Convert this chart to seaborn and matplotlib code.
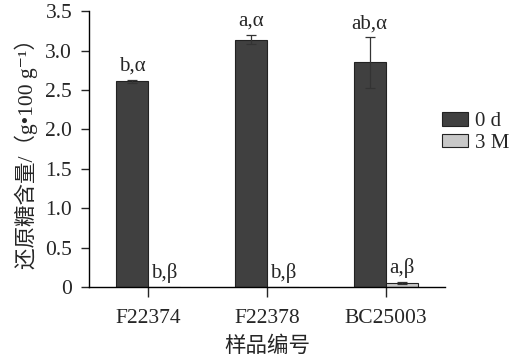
import matplotlib
matplotlib.use("Agg")
import matplotlib.pyplot as plt
import seaborn as sns
import pandas as pd
import numpy as np

samples = ["F22374", "F22378", "BC25003"]
groups = ["0 d", "3 M"]
vals_0d = [2.61, 3.14, 2.85]
err_0d = [0.02, 0.06, 0.32]
vals_3m = [0.0, 0.0, 0.05]
err_3m = [0.0, 0.0, 0.01]
labels_0d = ["b,α", "a,α", "ab,α"]
labels_3m = ["b,β", "b,β", "a,β"]
yticks = [0, 0.5, 1.0, 1.5, 2.0, 2.5, 3.0, 3.5]
ytick_labels = ["0", "0.5", "1.0", "1.5", "2.0", "2.5", "3.0", "3.5"]

df = pd.DataFrame({
    "sample": samples * 2,
    "group": [groups[0]] * 3 + [groups[1]] * 3,
    "value": vals_0d + vals_3m,
})

sns.set_style("white")
plt.rcParams["font.family"] = ["Liberation Serif", "Noto Sans CJK SC", "DejaVu Serif"]

fig = plt.figure(figsize=(5.11, 3.60), dpi=100)
ax = fig.add_axes([0.174, 0.203, 0.697, 0.766])

sns.barplot(data=df, x="sample", y="value", hue="group", order=samples,
            hue_order=groups, palette=["#404040", "#c8c8c8"], width=0.54,
            errorbar=None, ax=ax, edgecolor="#222222", linewidth=0.8,
            legend=True)

containers = ax.containers
for cont, errs, labs in zip(containers, [err_0d, err_3m], [labels_0d, labels_3m]):
    for bar, e, lab in zip(cont.patches, errs, labs):
        cx = bar.get_x() + bar.get_width() / 2
        h = bar.get_height()
        if e > 0:
            ax.errorbar(cx, h, yerr=e, color="#333333", capsize=3.5,
                        elinewidth=0.9, capthick=0.9)
        ax.text(cx, h + e + 0.05, lab, ha="center", va="bottom", fontsize=15)

ax.set_xlim(-0.5, 2.5)
ax.set_ylim(0, 3.5)
ax.set_yticks(yticks)
ax.set_yticklabels(ytick_labels, fontsize=15.5)
ax.tick_params(axis="x", labelsize=15.5, direction="out", length=7, width=1, pad=9, bottom=True)
ax.tick_params(axis="y", direction="out", length=6, width=1, left=True, pad=6)
for s in ["top", "right"]:
    ax.spines[s].set_visible(False)
for s in ["left", "bottom"]:
    ax.spines[s].set_color("black")
    ax.spines[s].set_linewidth(1.0)

ax.set_xlabel("样品编号", fontsize=15.5, labelpad=6)
ax.set_ylabel("还原糖含量/（g•100 g⁻¹）", fontsize=15.5, labelpad=5)

leg = ax.legend(loc="center left", bbox_to_anchor=(0.99, 0.56), frameon=False,
                fontsize=15, handlelength=1.25, handleheight=0.6,
                handletextpad=0.35, labelspacing=0.12, borderaxespad=0,
                borderpad=0)

fig.savefig("out.png", dpi=100)
